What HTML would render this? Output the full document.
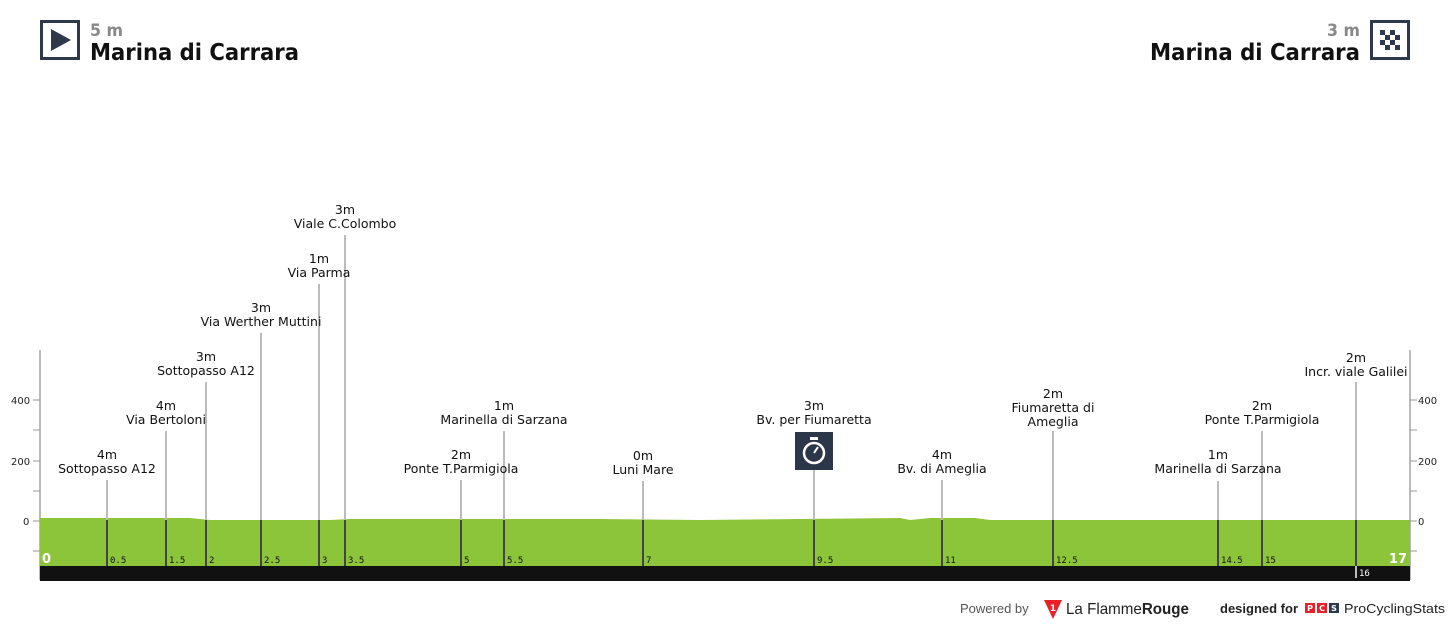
<!DOCTYPE html>
<html><head><meta charset="utf-8"><style>
html,body{margin:0;padding:0;background:#fff;}
svg{display:block;font-family:"DejaVu Sans","Liberation Sans",sans-serif;}
</style></head><body>
<svg width="1450" height="625" viewBox="0 0 1450 625" xmlns="http://www.w3.org/2000/svg">
<rect x="41.5" y="21.5" width="37" height="37" fill="#fff" stroke="#2e3a4c" stroke-width="3"/>
<polygon points="51,29 51,51 71,40" fill="#2e3a4c"/>
<text x="90" y="36" font-size="17" font-weight="bold" fill="#888" textLength="33" lengthAdjust="spacingAndGlyphs">5 m</text>
<text x="90" y="60" font-size="23" font-weight="bold" fill="#111" textLength="209" lengthAdjust="spacingAndGlyphs">Marina di Carrara</text>
<rect x="1371.5" y="21.5" width="37" height="37" fill="#fff" stroke="#2e3a4c" stroke-width="3"/>
<g fill="#2e3a4c">
<rect x="1380" y="30" width="5" height="5"/><rect x="1390" y="30" width="5" height="5"/>
<rect x="1385" y="35" width="5" height="5"/><rect x="1395" y="35" width="5" height="5"/>
<rect x="1380" y="40" width="5" height="5"/><rect x="1390" y="40" width="5" height="5"/>
<rect x="1385" y="45" width="5" height="5"/><rect x="1395" y="45" width="5" height="5"/>
</g>
<text x="1360" y="36" font-size="17" font-weight="bold" fill="#888" text-anchor="end" textLength="33" lengthAdjust="spacingAndGlyphs">3 m</text>
<text x="1150" y="60" font-size="23" font-weight="bold" fill="#111" textLength="210" lengthAdjust="spacingAndGlyphs">Marina di Carrara</text>
<g stroke="#bbb" stroke-width="2">
<line x1="40" y1="350" x2="40" y2="580"/><line x1="1410" y1="350" x2="1410" y2="580"/>
</g>
<g stroke="#999" stroke-width="1">
<line x1="33" y1="400" x2="40" y2="400"/><line x1="33" y1="430" x2="40" y2="430"/><line x1="33" y1="461" x2="40" y2="461"/><line x1="33" y1="491" x2="40" y2="491"/><line x1="33" y1="521" x2="40" y2="521"/><line x1="33" y1="551" x2="40" y2="551"/>
<line x1="1410" y1="400" x2="1417" y2="400"/><line x1="1410" y1="430" x2="1417" y2="430"/><line x1="1410" y1="461" x2="1417" y2="461"/><line x1="1410" y1="491" x2="1417" y2="491"/><line x1="1410" y1="521" x2="1417" y2="521"/><line x1="1410" y1="551" x2="1417" y2="551"/>
</g>
<g font-size="10" fill="#222">
<text x="11" y="404">400</text><text x="11" y="465">200</text><text x="23" y="525">0</text>
<text x="1418" y="404">400</text><text x="1418" y="465">200</text><text x="1418" y="525">0</text>
</g>
<path d="M40,518 L190,518 L210,520 L330,520 L350,519 L600,519 L700,520 L800,519 L900,518 L910,520 L930,518 L975,518 L990,520 L1410,520 L1410,566 L40,566 Z" fill="#8cc43a"/>
<rect x="40" y="566" width="1370" height="15" fill="#111"/>
<g stroke="#bbb" stroke-width="2">
<line x1="107" y1="480" x2="107" y2="520"/>
<line x1="166" y1="431" x2="166" y2="520"/>
<line x1="206" y1="382" x2="206" y2="520"/>
<line x1="261" y1="333" x2="261" y2="520"/>
<line x1="319" y1="284" x2="319" y2="520"/>
<line x1="345" y1="235" x2="345" y2="520"/>
<line x1="461" y1="480" x2="461" y2="520"/>
<line x1="504" y1="431" x2="504" y2="520"/>
<line x1="643" y1="481" x2="643" y2="520"/>
<line x1="814" y1="470" x2="814" y2="520"/>
<line x1="942" y1="480" x2="942" y2="520"/>
<line x1="1053" y1="431" x2="1053" y2="520"/>
<line x1="1218" y1="481" x2="1218" y2="520"/>
<line x1="1262" y1="431" x2="1262" y2="520"/>
<line x1="1356" y1="382" x2="1356" y2="520"/>
</g>
<g stroke="#444" stroke-width="2">
<line x1="107" y1="520" x2="107" y2="566"/><line x1="166" y1="520" x2="166" y2="566"/><line x1="206" y1="520" x2="206" y2="566"/><line x1="261" y1="520" x2="261" y2="566"/><line x1="319" y1="520" x2="319" y2="566"/><line x1="345" y1="520" x2="345" y2="566"/><line x1="461" y1="520" x2="461" y2="566"/><line x1="504" y1="520" x2="504" y2="566"/><line x1="643" y1="520" x2="643" y2="566"/><line x1="814" y1="520" x2="814" y2="566"/><line x1="942" y1="520" x2="942" y2="566"/><line x1="1053" y1="520" x2="1053" y2="566"/><line x1="1218" y1="520" x2="1218" y2="566"/><line x1="1262" y1="520" x2="1262" y2="566"/><line x1="1356" y1="520" x2="1356" y2="566"/>
</g>
<line x1="1356" y1="566" x2="1356" y2="578" stroke="#bbb" stroke-width="2"/>
<g font-size="9" fill="#111" font-family="DejaVu Sans Mono, monospace">
<text x="110" y="563">0.5</text><text x="169" y="563">1.5</text><text x="209" y="563">2</text><text x="264" y="563">2.5</text><text x="322" y="563">3</text><text x="348" y="563">3.5</text><text x="464" y="563">5</text><text x="507" y="563">5.5</text><text x="646" y="563">7</text><text x="817" y="563">9.5</text><text x="945" y="563">11</text><text x="1056" y="563">12.5</text><text x="1221" y="563">14.5</text><text x="1265" y="563">15</text>
<text x="1359" y="576" fill="#fff">16</text>
</g>
<text x="42" y="563" font-size="13" font-weight="bold" fill="#fff">0</text>
<text x="1407" y="563" font-size="13" font-weight="bold" fill="#fff" text-anchor="end">17</text>
<rect x="795" y="432" width="38" height="38" fill="#2b3648"/>
<circle cx="814" cy="453" r="10" fill="none" stroke="#fff" stroke-width="2.5"/>
<rect x="810" y="437" width="8" height="3" fill="#fff"/>
<line x1="814" y1="453" x2="818" y2="447" stroke="#fff" stroke-width="2"/>
<g font-size="12.5" fill="#111" text-anchor="middle" font-family="DejaVu Sans, Liberation Sans, sans-serif">
<text x="107" y="459">4m</text><text x="107" y="473">Sottopasso A12</text>
<text x="166" y="410">4m</text><text x="166" y="424">Via Bertoloni</text>
<text x="206" y="361">3m</text><text x="206" y="375">Sottopasso A12</text>
<text x="261" y="312">3m</text><text x="261" y="326">Via Werther Muttini</text>
<text x="319" y="263">1m</text><text x="319" y="277">Via Parma</text>
<text x="345" y="214">3m</text><text x="345" y="228">Viale C.Colombo</text>
<text x="461" y="459">2m</text><text x="461" y="473">Ponte T.Parmigiola</text>
<text x="504" y="410">1m</text><text x="504" y="424">Marinella di Sarzana</text>
<text x="643" y="460">0m</text><text x="643" y="474">Luni Mare</text>
<text x="814" y="410">3m</text><text x="814" y="424">Bv. per Fiumaretta</text>
<text x="942" y="459">4m</text><text x="942" y="473">Bv. di Ameglia</text>
<text x="1053" y="398">2m</text><text x="1053" y="412">Fiumaretta di</text><text x="1053" y="426">Ameglia</text>
<text x="1218" y="459">1m</text><text x="1218" y="473">Marinella di Sarzana</text>
<text x="1262" y="410">2m</text><text x="1262" y="424">Ponte T.Parmigiola</text>
<text x="1356" y="362">2m</text><text x="1356" y="376">Incr. viale Galilei</text>
</g>
<text x="960" y="613" font-size="13" fill="#555" font-family="Liberation Sans, sans-serif">Powered by</text>
<polygon points="1044,600 1062,600 1053,619" fill="#e8202a"/>
<text x="1053" y="611" font-size="9" fill="#fff" text-anchor="middle" font-weight="bold">1</text>
<text x="1066" y="614" font-size="16" fill="#222" font-family="Liberation Sans, sans-serif" textLength="123" lengthAdjust="spacingAndGlyphs">La Flamme<tspan font-weight="bold">Rouge</tspan></text>
<text x="1220" y="613" font-size="13" fill="#222" font-weight="bold" font-family="Liberation Sans, sans-serif">designed for</text>
<rect x="1305" y="603" width="10" height="10" fill="#e8202a"/><rect x="1317" y="603" width="10" height="10" fill="#e8202a"/><rect x="1329" y="603" width="10" height="10" fill="#2e3a4c"/>
<text x="1310" y="611" font-size="8" fill="#fff" text-anchor="middle" font-weight="bold">P</text><text x="1322" y="611" font-size="8" fill="#fff" text-anchor="middle" font-weight="bold">C</text><text x="1334" y="611" font-size="8" fill="#fff" text-anchor="middle" font-weight="bold">S</text>
<text x="1344" y="613" font-size="13" fill="#222" font-family="Liberation Sans, sans-serif" textLength="101" lengthAdjust="spacingAndGlyphs">ProCyclingStats</text>
</svg>
</body></html>
